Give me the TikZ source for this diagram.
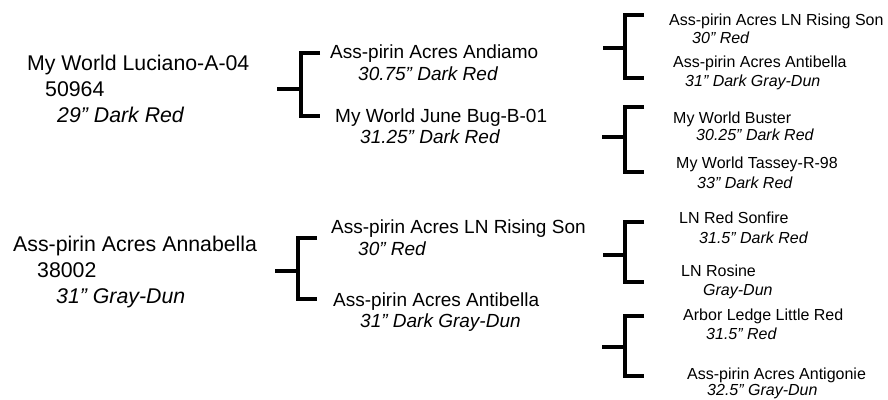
\documentclass[tikz,border=0pt]{standalone}
\usepackage{fontspec}
\setmainfont{Liberation Sans}
\tikzset{
  big/.style={anchor=base west,inner sep=0pt,font=\fontsize{21.3}{25}\selectfont},
  mid/.style={anchor=base west,inner sep=0pt,font=\fontsize{19}{22}\selectfont},
  sml/.style={anchor=base west,inner sep=0pt,font=\fontsize{16}{19}\selectfont},
  bigit/.style={big,font=\fontsize{21.3}{25}\selectfont\itshape},
  midit/.style={mid,font=\fontsize{19}{22}\selectfont\itshape},
  smlit/.style={sml,font=\fontsize{16}{19}\selectfont\itshape},
  brk/.style={line width=4pt,line join=miter,line cap=butt,black}
}
\begin{document}
\begin{tikzpicture}[x=1pt,y=-1pt]
\useasboundingbox (0,0) rectangle (888,399);
% generation 1
\node[big]   (a1) at (27,70)   {My World Luciano-A-04};
\node[big]   (a2) at (45,96.5) {50964};
\node[bigit] (a3) at (57,122)  {29” Dark Red};
\node[big]   (b1) at (13,251.7){Ass-pirin Acres Annabella};
\node[big]   (b2) at (37,277)  {38002};
\node[bigit] (b3) at (56,303)  {31” Gray-Dun};
% generation 2
\node[mid]   (c1) at (330,58)   {Ass-pirin Acres Andiamo};
\node[midit] (c2) at (358,80)   {30.75” Dark Red};
\node[mid]   (d1) at (335,122)  {My World June Bug-B-01};
\node[midit] (d2) at (360,143)  {31.25” Dark Red};
\node[mid]   (e1) at (331,233)  {Ass-pirin Acres LN Rising Son};
\node[midit] (e2) at (358,255)  {30” Red};
\node[mid]   (f1) at (333,306.5){Ass-pirin Acres Antibella};
\node[midit] (f2) at (360,327.5){31” Dark Gray-Dun};
% generation 3
\node[sml]   (g1) at (669,25.5) {Ass-pirin Acres LN Rising Son};
\node[smlit] (g2) at (692,43)   {30” Red};
\node[sml]   (h1) at (673,67)   {Ass-pirin Acres Antibella};
\node[smlit] (h2) at (685,86)   {31” Dark Gray-Dun};
\node[sml]   (i1) at (673,123)  {My World Buster};
\node[smlit] (i2) at (696,140)  {30.25” Dark Red};
\node[sml]   (j1) at (676,168)  {My World Tassey-R-98};
\node[smlit] (j2) at (697,188)  {33” Dark Red};
\node[sml]   (k1) at (679,223)  {LN Red Sonfire};
\node[smlit] (k2) at (699,243)  {31.5” Dark Red};
\node[sml]   (l1) at (681,276)  {LN Rosine};
\node[smlit] (l2) at (703,295)  {Gray-Dun};
\node[sml]   (m1) at (683,320)  {Arbor Ledge Little Red};
\node[smlit] (m2) at (706,339)  {31.5” Red};
\node[sml]   (n1) at (687,379)  {Ass-pirin Acres Antigonie};
\node[smlit] (n2) at (707,395.5){32.5” Gray-Dun};
% brackets
\coordinate (s1) at (277,89.3);  \coordinate (v1) at (300.7,89.3);
\coordinate (t1) at (320,53.3);  \coordinate (u1) at (320,116);
\coordinate (s2) at (275,270.7); \coordinate (v2) at (298,270.7);
\coordinate (t2) at (317,238.3); \coordinate (u2) at (317,299);
\coordinate (s3) at (603,48);    \coordinate (v3) at (625,48);
\coordinate (t3) at (644,15.3);  \coordinate (u3) at (644,78.3);
\coordinate (s4) at (602,136.7); \coordinate (v4) at (625,136.7);
\coordinate (t4) at (644,107.3); \coordinate (u4) at (644,172);
\coordinate (s5) at (603,255);   \coordinate (v5) at (625,255);
\coordinate (t5) at (644,222);   \coordinate (u5) at (644,282);
\coordinate (s6) at (602,346.5); \coordinate (v6) at (625,346.5);
\coordinate (t6) at (644,316);   \coordinate (u6) at (644,376);
\foreach \k in {1,...,6}{
  \draw[brk] (s\k) -- (v\k);
  \draw[brk] (t\k) -- (t\k -| v\k) -- (u\k -| v\k) -- (u\k);
}
\end{tikzpicture}
\end{document}
